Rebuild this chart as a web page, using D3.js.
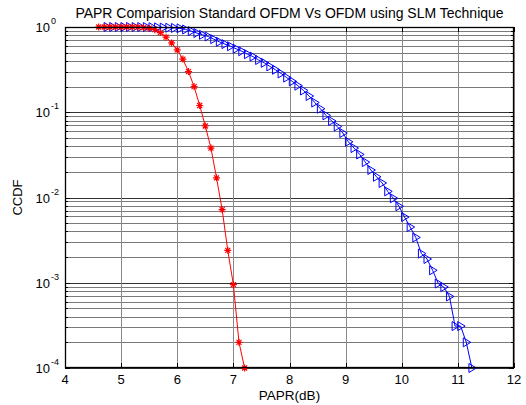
<!DOCTYPE html>
<html><head><meta charset="utf-8">
<script src="https://cdn.jsdelivr.net/npm/d3@7"></script>
<style>html,body{margin:0;padding:0;background:#fff;}svg{display:block;}</style>
</head><body>
<svg id="c" width="526" height="405"></svg>
<script>
const titleText = "PAPR Comparision Standard OFDM Vs OFDM using SLM Technique";
const xLabel = "PAPR(dB)";
const yLabel = "CCDF";
const xTicks = [4,5,6,7,8,9,10,11,12];
const yExponents = [0,-1,-2,-3,-4];

const slmX = [4.6,4.7,4.8,4.9,5.0,5.1,5.2,5.3,5.4,5.5,5.6,5.7,5.8,5.9,6.0,6.1,6.2,6.3,6.4,6.5,6.6,6.7,6.8,6.9,7.0,7.1,7.2];
const slmY = [1,1,1,1,1,1,1,0.995,0.985,0.97,0.93,0.86,0.76,0.65,0.54,0.42,0.30,0.20,0.12,0.069,0.038,0.017,0.0072,0.0024,0.00095,0.0002,0.0001];

const ofdmX = [4.75,4.85,4.95,5.05,5.15,5.25,5.35,5.45,5.55,5.65,5.75,5.85,5.95,6.05,6.15,6.25,6.35,6.45,6.55,6.65,6.75,6.85,6.95,7.05,7.15,7.25,7.35,7.45,7.55,7.65,7.75,7.85,7.95,8.05,8.15,8.25,8.35,8.45,8.55,8.65,8.75,8.85,8.95,9.05,9.15,9.25,9.35,9.45,9.55,9.65,9.75,9.85,9.95,10.05,10.15,10.25,10.35,10.45,10.55,10.65,10.75,10.85,10.95,11.05,11.15,11.25];
const ofdmY = [1,1,1,1,1,1,1,1,0.995,0.99,0.985,0.98,0.975,0.965,0.935,0.895,0.85,0.81,0.775,0.72,0.67,0.63,0.595,0.555,0.52,0.48,0.45,0.41,0.38,0.345,0.315,0.285,0.255,0.23,0.205,0.18,0.155,0.13,0.11,0.092,0.079,0.068,0.057,0.045,0.038,0.032,0.026,0.021,0.0175,0.0148,0.0118,0.0098,0.0079,0.0059,0.0045,0.0034,0.0022,0.0019,0.0014,0.00098,0.00089,0.00069,0.00031,0.00031,0.0002,0.0001];

const L=65, R=514, T=27, B=368;
const svg = d3.select("#c");
const x = d3.scaleLinear().domain([4,12]).range([L,R]);
const y = d3.scaleLog().domain([1e-4,1]).range([B,T]);
const font = "Arial, 'Liberation Sans', sans-serif";

svg.append("rect").attr("x",L).attr("y",T).attr("width",R-L).attr("height",B-T).attr("fill","#fff");

// grid
const g = svg.append("g");
const minorVals = [];
yExponents.forEach(e => { if (e > -4) { for (let k=2;k<=9;k++) minorVals.push(k*Math.pow(10,e-1)); } });
g.selectAll(".ym").data(minorVals).enter().append("line")
  .attr("x1",L).attr("x2",R).attr("y1",d=>Math.round(y(d))+0.5).attr("y2",d=>Math.round(y(d))+0.5)
  .attr("stroke","#7a7a7a").attr("stroke-width",1);
g.selectAll(".yM").data(yExponents.map(e=>Math.pow(10,e))).enter().append("line")
  .attr("x1",L).attr("x2",R).attr("y1",d=>Math.round(y(d))+0.5).attr("y2",d=>Math.round(y(d))+0.5)
  .attr("stroke","#333").attr("stroke-width",1);
g.selectAll(".xg").data(xTicks).enter().append("line")
  .attr("x1",d=>Math.round(x(d))+0.5).attr("x2",d=>Math.round(x(d))+0.5).attr("y1",T).attr("y2",B)
  .attr("stroke","#8a8a8a").attr("stroke-width",1);

// ticks inside
const tk = svg.append("g").attr("stroke","#000").attr("stroke-width",1);
xTicks.forEach(d=>{
  const px=Math.round(x(d))+0.5;
  tk.append("line").attr("x1",px).attr("x2",px).attr("y1",B).attr("y2",B-5);
  tk.append("line").attr("x1",px).attr("x2",px).attr("y1",T).attr("y2",T+5);
});
minorVals.forEach(d=>{
  const py=Math.round(y(d))+0.5;
  tk.append("line").attr("x1",L).attr("x2",L+3).attr("y1",py).attr("y2",py);
  tk.append("line").attr("x1",R).attr("x2",R-3).attr("y1",py).attr("y2",py);
});
yExponents.forEach(e=>{
  const py=Math.round(y(Math.pow(10,e)))+0.5;
  tk.append("line").attr("x1",L).attr("x2",L+5).attr("y1",py).attr("y2",py);
  tk.append("line").attr("x1",R).attr("x2",R-5).attr("y1",py).attr("y2",py);
});

// lines
const line = d3.line().x(d=>x(d[0])).y(d=>y(d[1]));
const slm = slmX.map((v,i)=>[v,slmY[i]]);
const ofdm = ofdmX.map((v,i)=>[v,ofdmY[i]]);

svg.append("path").datum(ofdm).attr("d",line).attr("fill","none").attr("stroke","#0000ff").attr("stroke-width",1);
svg.append("path").datum(slm).attr("d",line).attr("fill","none").attr("stroke","#ff0000").attr("stroke-width",1);

// triangle markers (pointing right)
svg.append("g").selectAll("path").data(ofdm).enter().append("path")
  .attr("d",d=>{const cx=x(d[0]), cy=y(d[1]); return `M${cx-3},${cy-4.5}L${cx+4.5},${cy}L${cx-3},${cy+4.5}Z`;})
  .attr("fill","none").attr("stroke","#0000ff").attr("stroke-width",1);

// asterisk markers
svg.append("g").selectAll("path").data(slm).enter().append("path")
  .attr("d",d=>{const cx=x(d[0]), cy=y(d[1]), r=3.5, s=2.5;
    return `M${cx-r},${cy}L${cx+r},${cy}M${cx},${cy-r}L${cx},${cy+r}M${cx-s},${cy-s}L${cx+s},${cy+s}M${cx-s},${cy+s}L${cx+s},${cy-s}`;})
  .attr("fill","none").attr("stroke","#ff0000").attr("stroke-width",1.2);

// frame
svg.append("rect").attr("x",L+0.5).attr("y",T+0.5).attr("width",R-L-1).attr("height",B-T-1)
  .attr("fill","none").attr("stroke","#000").attr("stroke-width",1.3);

// x tick labels
svg.append("g").selectAll("text").data(xTicks).enter().append("text")
  .attr("x",d=>x(d)).attr("y",B+16).attr("text-anchor","middle")
  .attr("font-family",font).attr("font-size",13).text(d=>d);

// y tick labels
const yl = svg.append("g");
yExponents.forEach(e=>{
  const py=y(Math.pow(10,e));
  yl.append("text").attr("x",50).attr("y",py+5).attr("text-anchor","end")
    .attr("font-family",font).attr("font-size",13).text("10");
  yl.append("text").attr("x",51).attr("y",py-3).attr("text-anchor","start")
    .attr("font-family",font).attr("font-size",9).text(e);
});

// title and labels
svg.append("text").attr("x",(L+R)/2).attr("y",18).attr("text-anchor","middle")
  .attr("font-family",font).attr("font-size",14).text(titleText);
svg.append("text").attr("x",(L+R)/2).attr("y",400).attr("text-anchor","middle")
  .attr("font-family",font).attr("font-size",13.5).text(xLabel);
svg.append("text").attr("transform",`translate(22,${(T+B)/2}) rotate(-90)`).attr("text-anchor","middle")
  .attr("font-family",font).attr("font-size",13).text(yLabel);
</script>
</body></html>
